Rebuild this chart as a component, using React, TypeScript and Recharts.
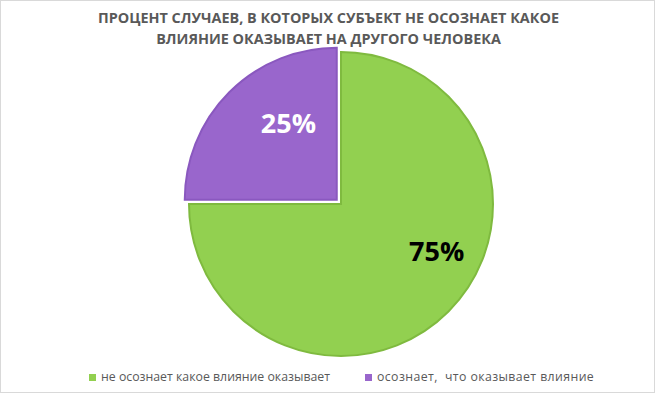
import React from "react";
import { PieChart, Pie, Cell } from "recharts";

const categories = ["не осознает какое влияние оказывает", "осознает,  что оказывает влияние"];
const values = [75, 25];
const colors = ["#92D050", "#9966CC"];
const strokes = ["#7FBA3F", "#8A58BF"];
const labelColors = ["#000000", "#FFFFFF"];
const titleLines = [
  "ПРОЦЕНТ СЛУЧАЕВ, В КОТОРЫХ СУБЪЕКТ НЕ ОСОЗНАЕТ КАКОЕ",
  "ВЛИЯНИЕ ОКАЗЫВАЕТ НА ДРУГОГО ЧЕЛОВЕКА",
];

const W = 655;
const H = 393;
const CX = 341;
const CY = 204;
const R = 152;
const EXPLODE = 6;
// label placement (angle in degrees, fraction of radius)
const labelSpot = [
  { angle: -26, r: 0.7 },
  { angle: 122, r: 0.6 },
];
const FONT = "'Open Sans', sans-serif";

const data = categories.map((name, i) => ({ name, value: values[i] }));
const total = values.reduce((a, b) => a + b, 0);

const RAD = Math.PI / 180;

const App: React.FC = () => {
  // mid angle of the purple slice for the explode direction
  const purpleMid = 90 - (360 * (values[0] + values[1] / 2)) / total;
  const pcx = CX + EXPLODE * Math.cos(purpleMid * RAD);
  const pcy = CY - EXPLODE * Math.sin(purpleMid * RAD);

  const renderLabel = (only: number) => (props: any) => {
    const { cx, cy, outerRadius, index, value } = props;
    if (index !== only) return null;
    const spot = labelSpot[index];
    const x = cx + outerRadius * spot.r * Math.cos(spot.angle * RAD);
    const y = cy - outerRadius * spot.r * Math.sin(spot.angle * RAD);
    return (
      <text
        x={x}
        y={y}
        fill={labelColors[index]}
        textAnchor="middle"
        dominantBaseline="central"
        fontFamily={FONT}
        fontWeight={700}
        fontSize={27}
      >
        {Math.round((value / total) * 100)}%
      </text>
    );
  };

  return (
    <div
      style={{
        position: "absolute",
        left: 0,
        top: 0,
        width: W,
        height: H,
        boxSizing: "border-box",
        border: "1px solid #D9D9D9",
        background: "#fff",
        fontFamily: FONT,
      }}
    >
      <div
        style={{
          position: "absolute",
          top: 6,
          left: 0,
          width: W,
          textAlign: "center",
          color: "#595959",
          fontWeight: 700,
          fontSize: 14.4,
          lineHeight: "21px",
        }}
      >
        {titleLines.map((t) => (
          <div key={t}>{t}</div>
        ))}
      </div>
      <div style={{ position: "absolute", left: -1, top: -1 }}>
        <PieChart width={W} height={H} margin={{ top: 0, right: 0, bottom: 0, left: 0 }}>
          <Pie
            data={data}
            dataKey="value"
            cx={CX}
            cy={CY}
            outerRadius={R}
            startAngle={90}
            endAngle={-270}
            isAnimationActive={false}
            label={renderLabel(0)}
            labelLine={false}
          >
            {data.map((d, i) => (
              <Cell
                key={d.name}
                fill={i === 0 ? colors[i] : "transparent"}
                stroke={i === 0 ? strokes[i] : "none"}
                strokeWidth={2}
              />
            ))}
          </Pie>
          <Pie
            data={data}
            dataKey="value"
            cx={pcx}
            cy={pcy}
            outerRadius={R}
            startAngle={90}
            endAngle={-270}
            isAnimationActive={false}
            label={renderLabel(1)}
            labelLine={false}
          >
            {data.map((d, i) => (
              <Cell
                key={d.name}
                fill={i === 1 ? colors[i] : "transparent"}
                stroke={i === 1 ? strokes[i] : "none"}
                strokeWidth={2}
              />
            ))}
          </Pie>
        </PieChart>
      </div>
      <div
        style={{
          position: "absolute",
          top: 368,
          left: 88,
          display: "flex",
          fontSize: 12.3,
          color: "#595959",
          lineHeight: "16px",
        }}
      >
        {categories.map((c, i) => (
          <div key={c} style={{ display: "flex", alignItems: "center", marginRight: 35 }}>
            <span
              style={{ width: 7, height: 7, background: colors[i], marginRight: 5, display: "inline-block" }}
            />
            <span style={{ whiteSpace: "pre", letterSpacing: i === 1 ? 0.4 : 0 }}>{c}</span>
          </div>
        ))}
      </div>
    </div>
  );
};

export default App;
